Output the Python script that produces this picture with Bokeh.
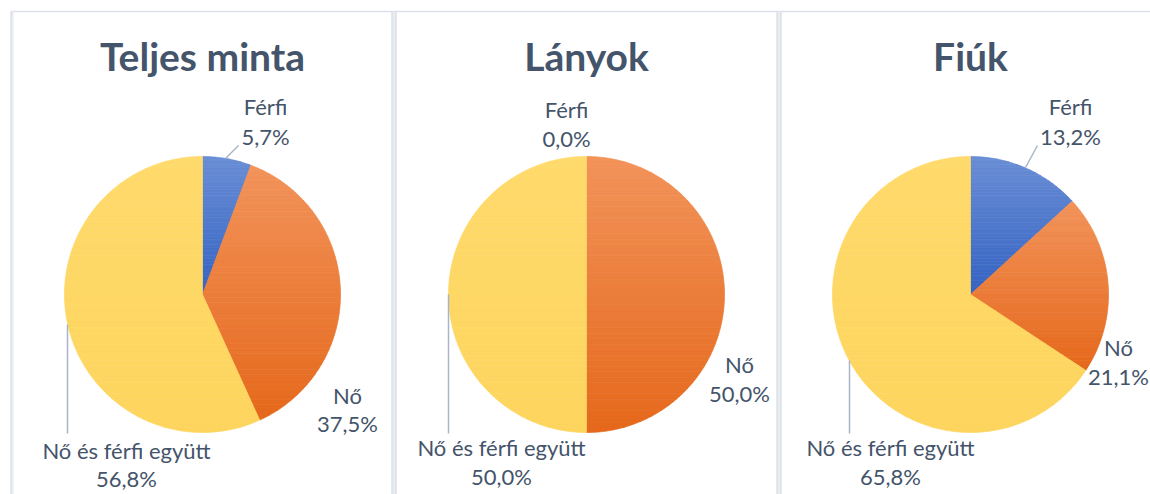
import numpy as np
from bokeh.plotting import figure
from bokeh.models import Range1d, ColumnDataSource
from bokeh.core.properties import value
from bokeh.embed import file_html
from bokeh.resources import INLINE

# ---- data ----
categories = ["Férfi", "Nő", "Nő és férfi együtt"]
titles = ["Teljes minta", "Lányok", "Fiúk"]
teljes_minta = [5.7, 37.5, 56.8]
lanyok = [0.0, 50.0, 50.0]
fiuk = [13.2, 21.1, 65.8]
series = [teljes_minta, lanyok, fiuk]

# ---- style / layout ----
W, H = 1150, 494
TEXT = "#44546A"
FONT = "Lato"
TITLE_SIZE = 39
LABEL_SIZE = 22
SHIFT = 0.44  # baseline correction, in em
grad = {  # (top, bottom) colours per category
    "Férfi": ("#6A8ED5", "#3463C2"),
    "Nő": ("#F2935A", "#E5681B"),
    "Nő és férfi együtt": ("#FFDA6C", "#FDD55E"),
}
centers = [(202, 294), (586, 294), (970, 294)]
R = 138
title_y = 73
# label anchors per panel per category: (x, baseline of name, baseline of value)
label_pos = [
    [(265, 116, 146), (347, 405, 433), (126, 460, 488)],
    [(566, 119, 148), (739, 374, 403), (501, 457, 486)],
    [(1070, 116, 146), (1118, 357, 386), (890, 457, 486)],
]
leaders = [
    [((225, 158), (238, 145)), None, ((67, 324), (67, 433))],
    [None, None, ((448, 294), (448, 433))],
    [((1025, 167), (1037, 145)), None, ((849, 360), (849, 433))],
]

p = figure(width=W, height=H, x_range=Range1d(0, W), y_range=Range1d(H, 0),
           output_backend="svg", toolbar_location=None,
           x_axis_location=None, y_axis_location=None, min_border=0)
p.grid.visible = False
p.outline_line_color = None
p.background_fill_color = "white"
p.border_fill_color = "white"

# panel frames
p.segment(x0=[10], y0=[11], x1=[W], y1=[11], line_color="#DDE1E7", line_width=1.5)
p.quad(left=[10, 391, 776], right=[13, 396, 781], top=[11, 11, 11], bottom=[H, H, H],
       fill_color="#E8ECF1", line_color=None)
p.segment(x0=[10.5, 391.5, 395.5, 776.5, 780.5], y0=[11] * 5,
          x1=[10.5, 391.5, 395.5, 776.5, 780.5], y1=[H] * 5,
          line_color="#D6DBE3", line_width=1)


def hex2rgb(h):
    h = h.lstrip("#")
    return np.array([int(h[i:i + 2], 16) for i in (0, 2, 4)], dtype=float)


def mix(c0, c1, t):
    c = hex2rgb(c0) * (1 - t) + hex2rgb(c1) * t
    return "#%02x%02x%02x" % tuple(int(round(v)) for v in c)


def clip_half(poly, yb, keep_above):
    out = []
    n = len(poly)
    for i in range(n):
        a, b = poly[i], poly[(i + 1) % n]
        ina = a[1] >= yb if keep_above else a[1] <= yb
        inb = b[1] >= yb if keep_above else b[1] <= yb
        if ina:
            out.append(a)
        if ina != inb:
            t = (yb - a[1]) / (b[1] - a[1])
            out.append((a[0] + t * (b[0] - a[0]), yb))
    return out


xs, ys, cols = [], [], []
for (cx, cy), vals in zip(centers, series):
    total = sum(vals)
    start = 0.0
    for cat, v in zip(categories, vals):
        frac = v / total
        a0, a1 = start * 2 * np.pi, (start + frac) * 2 * np.pi
        start += frac
        if frac <= 0:
            continue
        n = max(8, int(frac * 360))
        th = np.linspace(a0, a1, n)
        poly = [(cx, cy)] + [(cx + R * np.sin(t), cy - R * np.cos(t)) for t in th]
        ymin = min(q[1] for q in poly)
        ymax = max(q[1] for q in poly)
        nb = 50
        edges = np.linspace(ymin, ymax, nb + 1)
        c0, c1 = grad[cat]
        for i in range(nb):
            sub = clip_half(poly, edges[i], True)
            sub = clip_half(sub, edges[i + 1], False) if sub else []
            if len(sub) < 3:
                continue
            xs.append([q[0] for q in sub])
            ys.append([q[1] for q in sub])
            cols.append(mix(c0, c1, (i + 0.5) / nb))

src = ColumnDataSource(dict(xs=xs, ys=ys, c=cols))
p.patches("xs", "ys", source=src, fill_color="c", line_color="c", line_width=0.7)

# leader lines
lx0, ly0, lx1, ly1 = [], [], [], []
for pl in leaders:
    for ld in pl:
        if ld:
            (a, b), (c, d) = ld
            lx0.append(a); ly0.append(b); lx1.append(c); ly1.append(d)
p.segment(x0=lx0, y0=ly0, x1=lx1, y1=ly1, line_color="#A9B5C7", line_width=1.5)

# titles
p.text(x=[c[0] for c in centers], y=[title_y - SHIFT * TITLE_SIZE] * 3, text=titles,
       text_align="center", text_baseline="alphabetic",
       text_font=value(FONT), text_font_style="bold", text_font_size=f"{TITLE_SIZE}px",
       text_color=TEXT)

# data labels
tx, ty, tt = [], [], []
for vals, poss in zip(series, label_pos):
    for cat, v, (x, y1, y2) in zip(categories, vals, poss):
        tx += [x, x]
        ty += [y1 - SHIFT * LABEL_SIZE, y2 - SHIFT * LABEL_SIZE]
        tt += [cat, ("%.1f%%" % v).replace(".", ",")]
p.text(x=tx, y=ty, text=tt, text_align="center", text_baseline="alphabetic",
       text_font=value(FONT), text_font_size=f"{LABEL_SIZE}px", text_color=TEXT)

open("out.html", "w").write(file_html(p, INLINE))
